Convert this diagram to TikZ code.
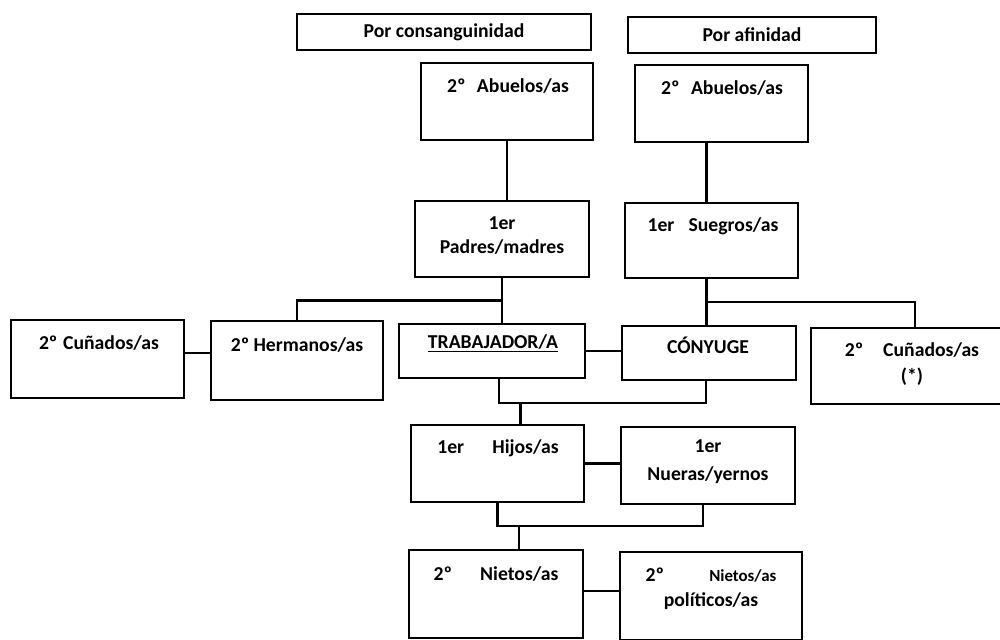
\documentclass[tikz,border=0pt]{standalone}
\usepackage{fontspec}
\setmainfont{Carlito}
\usetikzlibrary{calc,positioning}
\tikzset
{
    kinbox/.style 2 args = {rectangle, draw=black, line width=1.5pt, minimum width=#1*0.025cm, minimum height=#2*0.025cm, inner sep=0pt},
    kintext/.style = {align=center, inner sep=0pt, font=\fontsize{14}{17}\selectfont\bfseries},
    kinline/.style = {draw=black, line width=1.5pt}
}

\begin{document}
\begin{tikzpicture}[x=0.025cm, y=-0.025cm]
	\useasboundingbox (0,0) rectangle (1000,639);
	\clip (0,0) rectangle (1000,639);
	% cabeceras
	\node[kinbox={294}{36}] (hdrC) at (444,32) {};
	\node[kintext] (hdrC-t) at (hdrC) {Por consanguinidad};
	\node[kinbox={248}{36}] (hdrA) at (752,35) {};
	\node[kintext] (hdrA-t) at (hdrA) {Por afinidad};
	% abuelos y padres
	\node[kinbox={172}{77}] (abuC) at (507,101.5) {};
	\node[kintext] (abuC-t) at (508,86) {2º\hspace{8pt}Abuelos/as};
	\node[kinbox={173}{77}] (abuA) at (721.5,103.5) {};
	\node[kintext] (abuA-t) at (722,88) {2º\hspace{8pt}Abuelos/as};
	\node[kinbox={174}{76}] (padres) at (502,239) {};
	\node[kintext] (padres-t) at (502,236) {1er\\Padres/madres};
	\node[kinbox={173}{75}] (suegros) at (711.5,240.5) {};
	\node[kintext] (suegros-t) at (713,226) {1er\hspace{10pt}Suegros/as};
	% fila del trabajador
	\node[kinbox={173}{78}] (cunC) at (97.5,359) {};
	\node[kintext] (cunC-t) at (99,343) {2º\hspace{4pt}Cuñados/as};
	\node[kinbox={172}{79}] (herm) at (297,360.5) {};
	\node[kintext] (herm-t) at (297,345) {2º\hspace{3pt}Hermanos/as};
	\node[kinbox={186}{54}] (trab) at (492,351) {};
	\node[kintext] (trab-t) at (493,343) {\underline{TRABAJADOR/A}};
	\node[kinbox={174}{54}] (cony) at (709,353) {};
	\node[kintext] (cony-t) at (708,345) {CÓNYUGE};
	\node[kinbox={230}{76}] (cunA) at (926,366) {};
	\node[kintext] (cunA-t) at (912,364) {2º\hspace{14pt}Cuñados/as\\[2pt](*)};
	% hijos y nietos
	\node[kinbox={173}{77}] (hijos) at (497.5,463.5) {};
	\node[kintext] (hijos-t) at (498,448) {1er\hspace{20pt}Hijos/as};
	\node[kinbox={174}{77}] (nueras) at (708,465.5) {};
	\node[kintext] (nueras-t) at (708,462) {1er\\[3pt]Nueras/yernos};
	\node[kinbox={174}{88}] (nietos) at (496,594) {};
	\node[kintext] (nietos-t) at (496,574) {2º\hspace{20pt}Nietos/as};
	\node[kinbox={182}{88}] (nietosP) at (711,596) {};
	\node[kintext] (nietosP-a) at (711,575) {2º\hspace{32pt}{\fontsize{12}{14}\selectfont Nietos/as}};
	\node[kintext] (nietosP-b) at (711,601) {políticos/as};
	% lineas
	\draw[kinline] (abuC.south) -- (abuC.south |- padres.north);
	\draw[kinline] ($(suegros.north)+(-5,0)$) -- ($(suegros.north |- abuA.south)+(-5,0)$);
	\draw[kinline] (padres.south) -- (padres.south |- trab.north);
	\draw[kinline] (herm.north) |- ($(padres.south)!0.5!(padres.south |- trab.north)$);
	\draw[kinline] ($(suegros.south)+(-5,0)$) -- ($(suegros.south |- cony.north)+(-5,0)$);
	\draw[kinline] ($(cunA.north)+(-11,0)$) |- ($(suegros.south)!0.5!(suegros.south |- cony.north)+(-5,0)$);
	\draw[kinline] (herm.west |- herm-t.south) -- (cunC.east |- herm-t.south);
	\draw[kinline] (trab.east) -- (trab.east -| cony.west);
	\draw[kinline] ($(trab.south)+(7,0)$) -- ++(0,24) coordinate (jnT) -| ($(cony.south)+(-3,0)$);
	\draw[kinline] ($(hijos.north)+(23,0)$) -- ($(hijos.north |- jnT)+(23,0)$);
	\draw[kinline] (hijos.east) -- (hijos.east -| nueras.west);
	\draw[kinline] (hijos.south) -- ++(0,23) coordinate (jnH) -| ($(nueras.south)+(-5,0)$);
	\draw[kinline] ($(nietos.north)+(23,0)$) -- ($(nietos.north |- jnH)+(23,0)$);
	\draw[kinline] (nietos.east |- 0,591) -- (nietosP.west |- 0,591);
\end{tikzpicture}
\end{document}
